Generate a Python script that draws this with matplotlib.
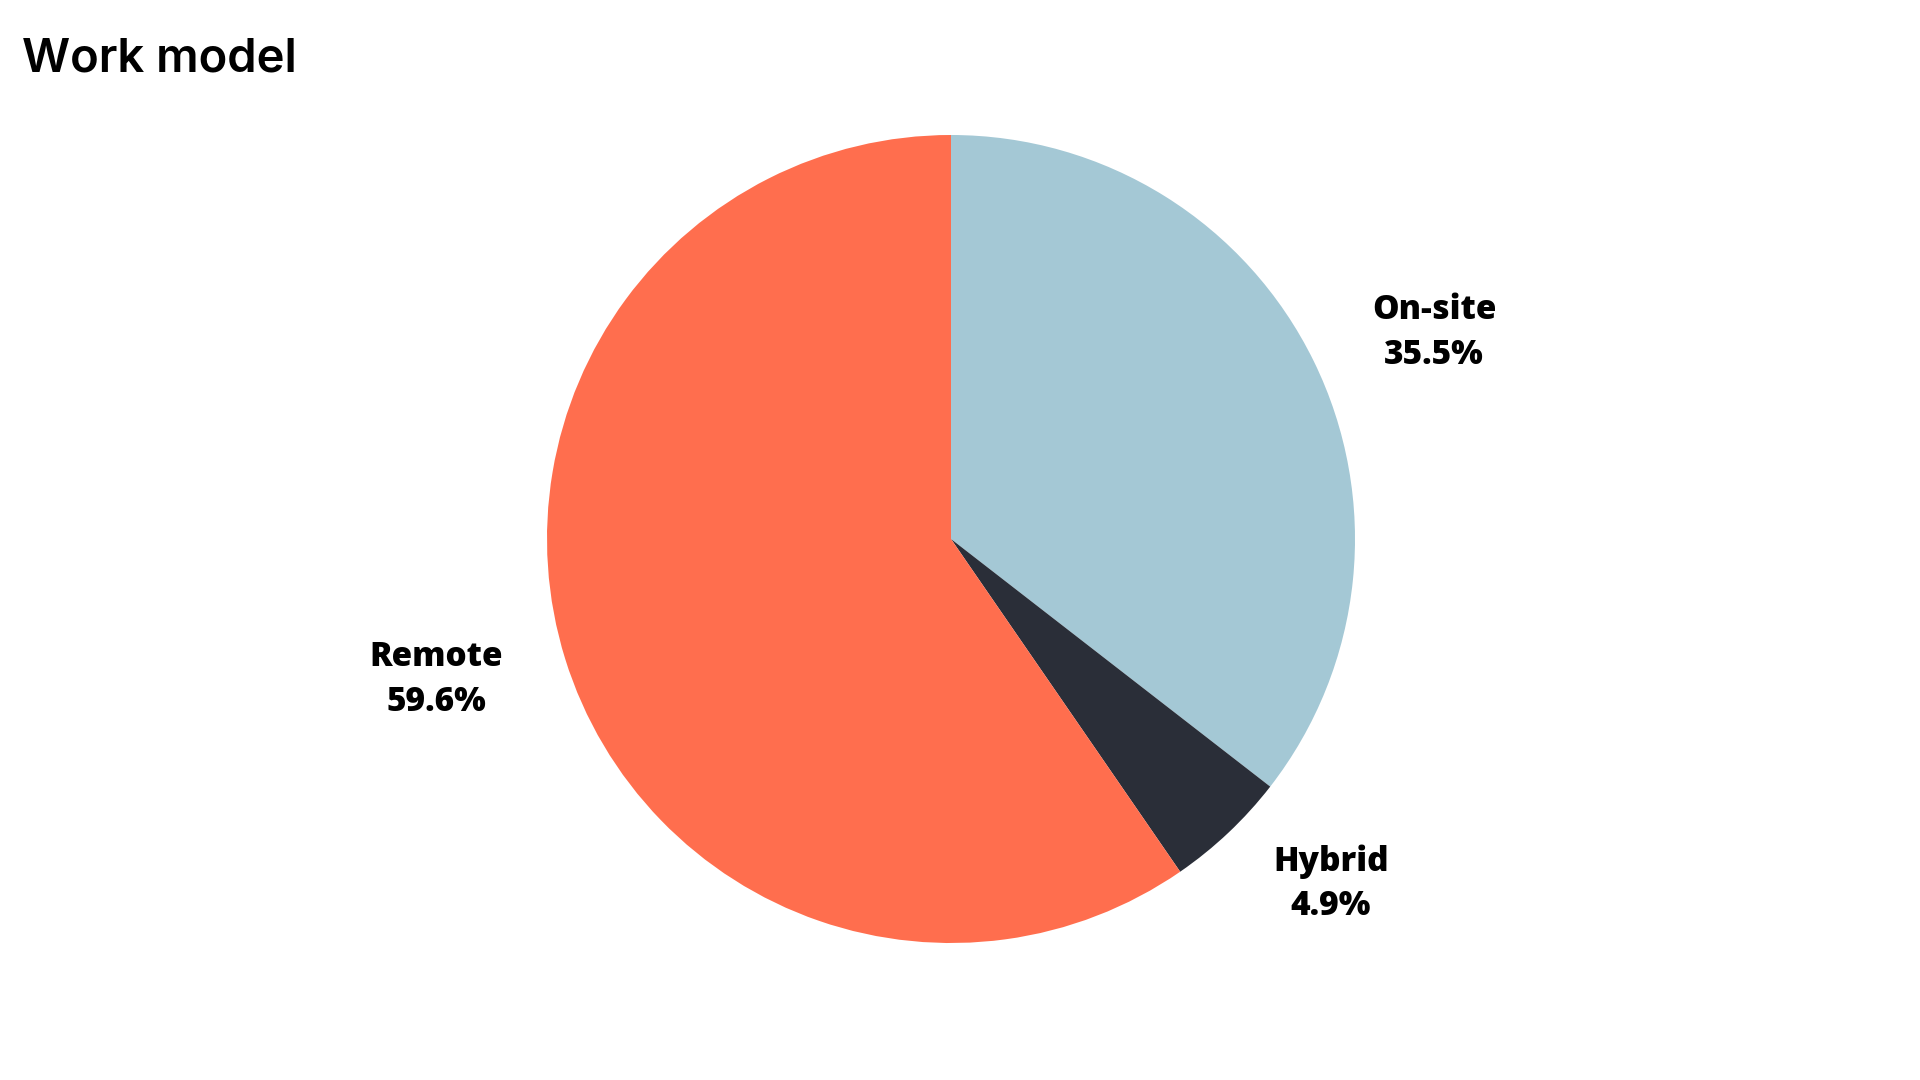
import matplotlib
matplotlib.use("Agg")
import matplotlib.pyplot as plt
import numpy as np

categories = ["On-site", "Hybrid", "Remote"]
shares = [35.5, 4.9, 59.6]
colors = ["#A4C8D5", "#2A2E38", "#FF6E4E"]
title = "Work model"

# label placement tweaks (layout only): radial distance factor and angle shift in degrees
label_dist = [1.30, 1.27, 1.32]
label_shift = [-3.0, 4.4, -2.0]

CX, CY, R = 951, 541, 404

fig = plt.figure(figsize=(19.2, 10.8), dpi=100)
fig.patch.set_facecolor("white")
ax = fig.add_axes([0, 0, 1, 1])

labels = [f"{c}\n{v:.1f}%" for c, v in zip(categories, shares)]
wedges, texts = ax.pie(
    shares,
    colors=colors,
    labels=labels,
    startangle=90,
    counterclock=False,
    center=(CX, CY),
    radius=R,
    labeldistance=1.3,
    wedgeprops=dict(linewidth=0),
    textprops=dict(family="Open Sans", fontweight=800, fontsize=24,
                   color="black", linespacing=1.42),
)
for w, t, d, s in zip(wedges, texts, label_dist, label_shift):
    ang = np.deg2rad((w.theta1 + w.theta2) / 2 + s)
    t.set_position((CX + R * d * np.cos(ang), CY + R * d * np.sin(ang)))
    t.set_horizontalalignment("center")
    t.set_verticalalignment("center")

ax.set_xlim(0, 1920)
ax.set_ylim(0, 1080)
ax.set_aspect("equal")
ax.axis("off")

fig.text(22 / 1920, 1 - 60 / 1080, title, family="Inter", fontsize=34,
         fontweight=600, color="black", ha="left", va="center")

fig.savefig("out.png", dpi=100, facecolor="white")
